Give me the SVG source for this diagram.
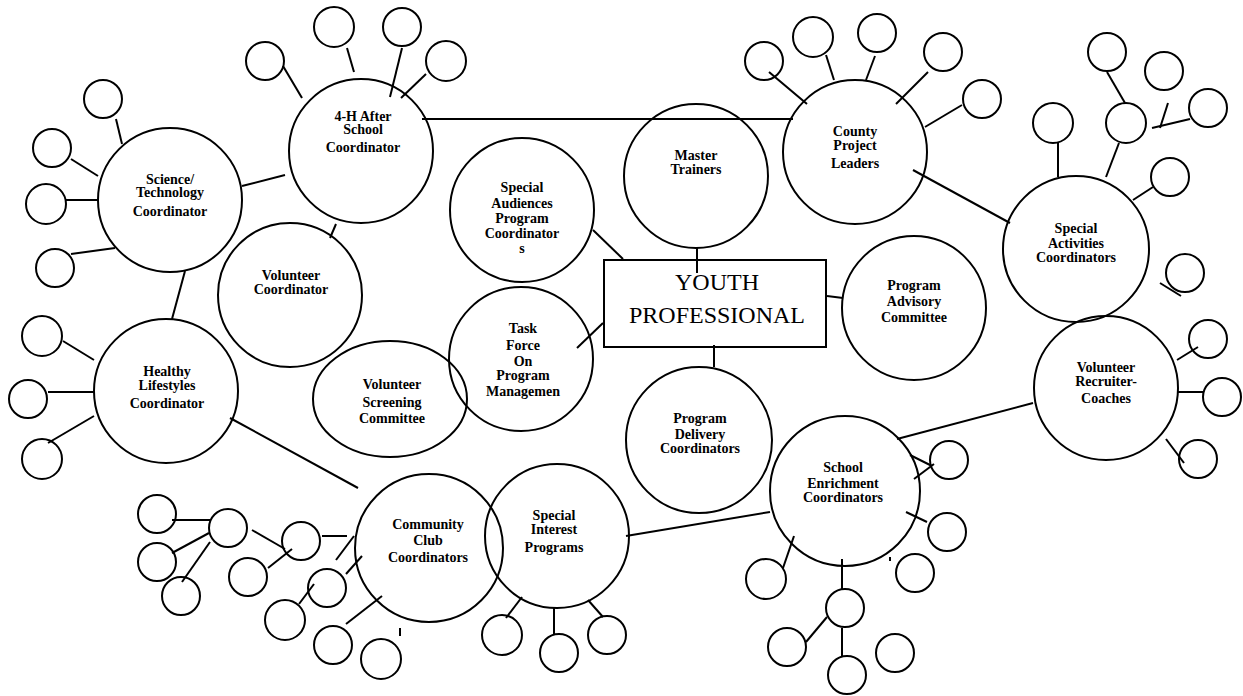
<svg xmlns="http://www.w3.org/2000/svg" width="1243" height="696" viewBox="0 0 1243 696">
<style>
circle,ellipse,rect{fill:none;stroke:#000;stroke-width:2}
line{stroke:#000;stroke-width:2}
text{font-family:"Liberation Serif","Times New Roman",serif;font-size:14px;font-weight:bold;text-anchor:middle;fill:#000}
.big{font-size:24px;font-weight:normal}
</style>
<rect width="1243" height="696" style="fill:#fff;stroke:none"/>
<g id="connectors">
<line x1="422" y1="119" x2="793" y2="119"/>
<line x1="242" y1="186" x2="285" y2="175"/>
<line x1="336" y1="224" x2="330" y2="238"/>
<line x1="185" y1="271" x2="172" y2="319"/>
<line x1="230" y1="418" x2="358" y2="488"/>
<line x1="697" y1="248" x2="697" y2="273"/>
<line x1="593" y1="230" x2="623" y2="259"/>
<line x1="603" y1="323" x2="577" y2="348"/>
<line x1="714" y1="345" x2="714" y2="367"/>
<line x1="827" y1="296" x2="843" y2="298"/>
<line x1="913" y1="170" x2="1010" y2="223"/>
<line x1="1033" y1="403" x2="897" y2="439"/>
<line x1="626" y1="536" x2="770" y2="512"/>
<!-- science spokes -->
<line x1="116" y1="119" x2="122" y2="144"/>
<line x1="71" y1="159" x2="98" y2="176"/>
<line x1="66" y1="200" x2="98" y2="200"/>
<line x1="71" y1="254" x2="115" y2="248"/>
<!-- 4-H spokes -->
<line x1="283" y1="66" x2="302" y2="98"/>
<line x1="347" y1="48" x2="354" y2="72"/>
<line x1="402" y1="48" x2="390" y2="97"/>
<line x1="401" y1="98" x2="426" y2="74"/>
<!-- county spokes -->
<line x1="769" y1="72" x2="807" y2="104"/>
<line x1="826" y1="55" x2="834" y2="80"/>
<line x1="875" y1="56" x2="866" y2="80"/>
<line x1="928" y1="72" x2="896" y2="104"/>
<line x1="962" y1="105" x2="925" y2="127"/>
<!-- special activities spokes -->
<line x1="1058" y1="142" x2="1058" y2="177"/>
<line x1="1107" y1="72" x2="1125" y2="103"/>
<line x1="1119" y1="143" x2="1106" y2="177"/>
<line x1="1168" y1="103" x2="1160" y2="128"/>
<line x1="1152" y1="128" x2="1190" y2="119"/>
<line x1="1133" y1="200" x2="1153" y2="187"/>
<line x1="1160" y1="283" x2="1181" y2="296"/>
<!-- recruiter spokes -->
<line x1="1177" y1="360" x2="1198" y2="347"/>
<line x1="1178" y1="392" x2="1203" y2="392"/>
<line x1="1166" y1="439" x2="1184" y2="463"/>
<!-- healthy spokes -->
<line x1="63" y1="341" x2="94" y2="360"/>
<line x1="48" y1="392" x2="94" y2="392"/>
<line x1="48" y1="443" x2="94" y2="416"/>
<!-- community spokes -->
<line x1="172" y1="520" x2="211" y2="520"/>
<line x1="172" y1="553" x2="209" y2="533"/>
<line x1="182" y1="582" x2="210" y2="542"/>
<line x1="252" y1="530" x2="285" y2="549"/>
<line x1="268" y1="568" x2="292" y2="549"/>
<line x1="322" y1="536" x2="347" y2="536"/>
<line x1="336" y1="560" x2="354" y2="536"/>
<line x1="346" y1="574" x2="362" y2="556"/>
<line x1="299" y1="604" x2="314" y2="584"/>
<line x1="346" y1="624" x2="382" y2="596"/>
<line x1="400" y1="628" x2="400" y2="636"/>
<!-- special interest spokes -->
<line x1="522" y1="597" x2="506" y2="618"/>
<line x1="554" y1="608" x2="554" y2="634"/>
<line x1="588" y1="600" x2="603" y2="617"/>
<!-- school enrichment spokes -->
<line x1="794" y1="536" x2="783" y2="568"/>
<line x1="910" y1="455" x2="932" y2="466"/>
<line x1="914" y1="479" x2="934" y2="464"/>
<line x1="906" y1="512" x2="927" y2="522"/>
<line x1="890" y1="557" x2="890" y2="561"/>
<line x1="842" y1="559" x2="842" y2="589"/>
<line x1="842" y1="628" x2="842" y2="657"/>
<line x1="806" y1="642" x2="827" y2="617"/>
</g>
<g id="youth-professional"><rect x="604" y="260" width="222" height="87"/><text class="big" x="717" y="290">YOUTH</text><text class="big" x="717" y="323">PROFESSIONAL</text></g>
<g id="science"><circle cx="170" cy="200" r="72"/><text x="170" y="184">Science/</text><text x="170" y="197">Technology</text><text x="170" y="216">Coordinator</text></g>
<g id="afterschool"><circle cx="361" cy="151" r="72"/><text x="363" y="121">4-H After</text><text x="363" y="134">School</text><text x="363" y="152">Coordinator</text></g>
<g id="master"><circle cx="696" cy="176" r="72"/><text x="696" y="160">Master</text><text x="696" y="174">Trainers</text></g>
<g id="county"><circle cx="855" cy="152" r="72"/><text x="855" y="136">County</text><text x="855" y="150">Project</text><text x="855" y="168">Leaders</text></g>
<g id="special-activities"><circle cx="1076" cy="249" r="73"/><text x="1076" y="233">Special</text><text x="1076" y="248">Activities</text><text x="1076" y="262">Coordinators</text></g>
<g id="special-audiences"><circle cx="522" cy="210" r="72"/><text x="522" y="192">Special</text><text x="522" y="208">Audiences</text><text x="522" y="223">Program</text><text x="522" y="238">Coordinator</text><text x="522" y="253">s</text></g>
<g id="volunteer-coordinator"><circle cx="290" cy="295" r="72"/><text x="291" y="280">Volunteer</text><text x="291" y="294">Coordinator</text></g>
<g id="healthy"><circle cx="166" cy="391" r="72"/><text x="167" y="376">Healthy</text><text x="167" y="390">Lifestyles</text><text x="167" y="408">Coordinator</text></g>
<g id="screening"><ellipse cx="390" cy="399" rx="77" ry="58"/><text x="392" y="389">Volunteer</text><text x="392" y="407">Screening</text><text x="392" y="423">Committee</text></g>
<g id="task-force"><circle cx="521" cy="359" r="72"/><text x="523" y="333">Task</text><text x="523" y="350">Force</text><text x="523" y="366">On</text><text x="523" y="380">Program</text><text x="523" y="396">Managemen</text></g>
<g id="advisory"><circle cx="914" cy="308" r="72"/><text x="914" y="290">Program</text><text x="914" y="306">Advisory</text><text x="914" y="322">Committee</text></g>
<g id="delivery"><circle cx="699" cy="440" r="73"/><text x="700" y="423">Program</text><text x="700" y="439">Delivery</text><text x="700" y="453">Coordinators</text></g>
<g id="recruiter"><circle cx="1106" cy="388" r="72"/><text x="1106" y="372">Volunteer</text><text x="1106" y="386">Recruiter-</text><text x="1106" y="403">Coaches</text></g>
<g id="school"><circle cx="845" cy="491" r="75"/><text x="843" y="472">School</text><text x="843" y="488">Enrichment</text><text x="843" y="502">Coordinators</text></g>
<g id="community"><circle cx="429" cy="548" r="74"/><text x="428" y="529">Community</text><text x="428" y="545">Club</text><text x="428" y="562">Coordinators</text></g>
<g id="special-interest"><circle cx="557" cy="536" r="72"/><text x="554" y="520">Special</text><text x="554" y="534">Interest</text><text x="554" y="552">Programs</text></g>
<g id="small-nodes">
<circle cx="103" cy="99" r="19"/><circle cx="52" cy="148" r="19"/><circle cx="46" cy="204" r="20"/><circle cx="55" cy="268" r="19"/>
<circle cx="265" cy="61" r="19"/><circle cx="334" cy="27" r="20"/><circle cx="402" cy="27" r="19"/><circle cx="446" cy="61" r="20"/>
<circle cx="764" cy="61" r="19"/><circle cx="813" cy="37" r="20"/><circle cx="877" cy="33" r="19"/><circle cx="943" cy="52" r="19"/><circle cx="982" cy="99" r="19"/>
<circle cx="1053" cy="123" r="20"/><circle cx="1107" cy="52" r="19"/><circle cx="1126" cy="123" r="20"/><circle cx="1164" cy="71" r="19"/><circle cx="1208" cy="108" r="19"/><circle cx="1170" cy="177" r="19"/><circle cx="1185" cy="273" r="19"/>
<circle cx="1208" cy="339" r="19"/><circle cx="1222" cy="397" r="19"/><circle cx="1198" cy="459" r="19"/>
<circle cx="42" cy="336" r="20"/><circle cx="28" cy="399" r="19"/><circle cx="42" cy="459" r="20"/>
<circle cx="157" cy="514" r="19"/><circle cx="228" cy="528" r="19"/><circle cx="157" cy="562" r="19"/><circle cx="181" cy="596" r="19"/><circle cx="301" cy="541" r="19"/><circle cx="248" cy="577" r="19"/><circle cx="327" cy="588" r="19"/><circle cx="285" cy="620" r="20"/><circle cx="333" cy="645" r="19"/><circle cx="381" cy="659" r="20"/>
<circle cx="502" cy="635" r="20"/><circle cx="559" cy="653" r="19"/><circle cx="607" cy="635" r="19"/>
<circle cx="766" cy="579" r="20"/><circle cx="949" cy="460" r="19"/><circle cx="947" cy="532" r="19"/><circle cx="915" cy="573" r="19"/><circle cx="845" cy="608" r="19"/><circle cx="847" cy="675" r="19"/><circle cx="895" cy="653" r="19"/><circle cx="787" cy="647" r="19"/>
</g>
</svg>
